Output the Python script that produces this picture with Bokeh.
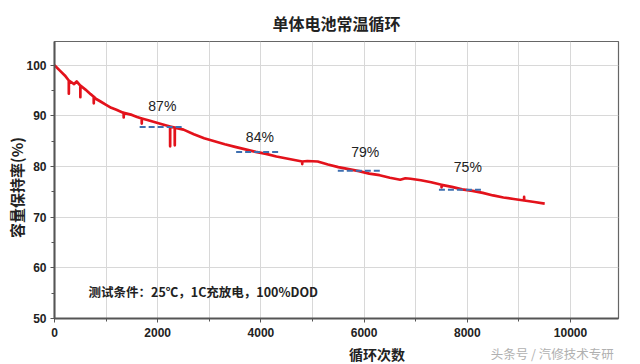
import math
from bokeh.plotting import figure
from bokeh.layouts import column
from bokeh.models import Range1d, FixedTicker, Label, ColumnDataSource, Title
from bokeh.core.properties import value
from bokeh.embed import file_html
from bokeh.resources import INLINE

# ---- data ----
cycles = [0, 100, 200, 277, 278, 279, 380, 430, 500, 501, 502, 600, 700,
          760, 761, 762, 800, 900, 1000, 1100, 1200, 1340, 1341, 1342,
          1500, 1600, 1690, 1691, 1692, 1800, 1900, 2000, 2100,
          2240, 2241, 2242, 2330, 2331, 2332, 2500, 2700, 2900, 3100, 3300,
          3500, 3700, 3900, 4100, 4300, 4500, 4700, 4800, 4801, 4802, 4900,
          5100, 5300, 5500, 5700, 5900, 6100, 6300, 6500, 6700, 6800, 6900,
          7100, 7300, 7500, 7501, 7502, 7700, 7900, 8100, 8300, 8500, 8700,
          8900, 9100, 9101, 9102, 9300, 9500]
retention = [100, 99.0, 98.0, 97.0, 94.4, 97.0, 96.3, 96.8, 96.0, 93.7, 96.0, 95.2, 94.3,
             93.8, 92.5, 93.8, 93.4, 92.8, 92.2, 91.6, 91.2, 90.6, 89.7, 90.6,
             90.2, 89.8, 89.5, 88.5, 89.5, 89.2, 88.9, 88.6, 88.3,
             87.9, 84.0, 87.9, 87.7, 84.2, 87.7, 87.3, 86.4, 85.6, 85.0, 84.4,
             83.9, 83.4, 82.9, 82.5, 82.0, 81.6, 81.2, 81.0, 80.5, 81.0, 81.1,
             81.0, 80.4, 79.9, 79.5, 79.1, 78.6, 78.3, 77.8, 77.4, 77.7, 77.6,
             77.3, 76.9, 76.4, 75.9, 76.4, 76.0, 75.5, 75.2, 74.8, 74.3, 73.9,
             73.6, 73.3, 74.0, 73.3, 73.0, 72.7]

ref_start = [1650, 3520, 5490, 7450]
ref_end = [2500, 4350, 6325, 8300]
ref_level = [87.8, 82.9, 79.2, 75.4]
pct_text = ["87%", "84%", "79%", "75%"]
pct_x = [2090, 3980, 6020, 8010]
pct_y = [92.0, 85.8, 82.9, 79.9]

x_ticks = [0, 2000, 4000, 6000, 8000, 10000]
x_minor = [1000, 3000, 5000, 7000, 9000]
y_ticks = [50, 60, 70, 80, 90, 100]
y_minor = [55, 65, 75, 85, 95]

title_text = "单体电池常温循环"
x_label = "循环次数"
y_label = "容量保持率(%)"
note_text = "测试条件：25℃，1C充放电，100%DOD"
mark_text = "头条号 / 汽修技术专研"

CJK = "Noto Sans CJK SC"
LAT = "Liberation Sans"
SP = "\u3000"

W = 640
BL, BR = 54, 22
X0, X1 = 0, 10930

p = figure(width=W, height=342, output_backend="svg", toolbar_location=None,
           x_range=Range1d(X0, X1), y_range=Range1d(50, 104.7),
           min_border_left=BL, min_border_right=BR, min_border_top=41,
           min_border_bottom=24)
p.outline_line_color = "#666666"
p.outline_line_width = 1.2

p.title = Title(text=title_text, align="center", offset=-4,
                text_font=CJK, text_font_size="16px", text_font_style="bold",
                text_color="#222222", standoff=14)

p.xaxis.ticker = FixedTicker(ticks=x_ticks, minor_ticks=x_minor)
p.yaxis.ticker = FixedTicker(ticks=y_ticks, minor_ticks=y_minor)
for ax in (p.xaxis, p.yaxis):
    ax.axis_line_color = "#555555"
    ax.axis_line_width = 2
    ax.major_tick_line_color = "#555555"
    ax.minor_tick_line_color = "#555555"
    ax.major_tick_in = 0
    ax.minor_tick_in = 0
    ax.major_tick_out = 4
    ax.minor_tick_out = 3
    ax.major_label_text_font = LAT
    ax.major_label_text_font_size = "12px"
    ax.major_label_text_font_style = "bold"
    ax.major_label_text_color = "#222222"
p.xaxis.major_label_standoff = 5
p.yaxis.major_label_standoff = 4
p.yaxis.axis_label = y_label + SP
p.yaxis.axis_label_standoff = -4
p.yaxis.axis_label_text_font = CJK
p.yaxis.axis_label_text_font_size = "15px"
p.yaxis.axis_label_text_font_style = "bold"
p.yaxis.axis_label_text_color = "#222222"

p.xgrid.grid_line_color = "#d8d8d8"
p.xgrid.minor_grid_line_color = "#d8d8d8"
p.ygrid.grid_line_color = "#d8d8d8"

p.line(cycles, retention, line_color="#e3121b", line_width=2.7, line_join="round")

p.segment(x0=ref_start, y0=ref_level, x1=ref_end, y1=ref_level,
          line_color="#3e6fb0", line_width=2, line_dash="6 3")

src = ColumnDataSource(dict(x=pct_x, y=pct_y, t=pct_text))
p.text(x="x", y="y", text="t", source=src, text_font=value(LAT),
       text_font_size="14px", text_color="#222222", text_align="center",
       text_baseline="middle")

p.add_layout(Label(x=659, y=55.3, text=note_text, text_font=CJK,
                   text_font_size="12.5px", text_font_style="bold",
                   text_color="#222222", text_align="left", text_baseline="middle"))

# strip below the chart: x-axis title and watermark, on the same x scale
scale = (W - BL - BR) / (X1 - X0)
p2 = figure(width=W, height=22, output_backend="svg", toolbar_location=None,
            x_range=Range1d(X0 - BL / scale, X1 + BR / scale), y_range=Range1d(0, 1),
            min_border_left=0, min_border_right=0, min_border_top=0, min_border_bottom=0)
p2.axis.visible = False
p2.grid.visible = False
p2.outline_line_color = None
p2.text(x=[6047], y=[0.5], text=[x_label], text_font=value(CJK),
        text_font_size="14px", text_font_style="bold", text_color="#222222",
        text_align="center", text_baseline="middle")
p2.text(x=[8547], y=[0.5], text=[mark_text], text_font=value(CJK),
        text_font_size="12.5px", text_color="#b0b0b0",
        text_align="left", text_baseline="middle")

open("out.html", "w").write(file_html(column(p, p2, spacing=0), INLINE))
